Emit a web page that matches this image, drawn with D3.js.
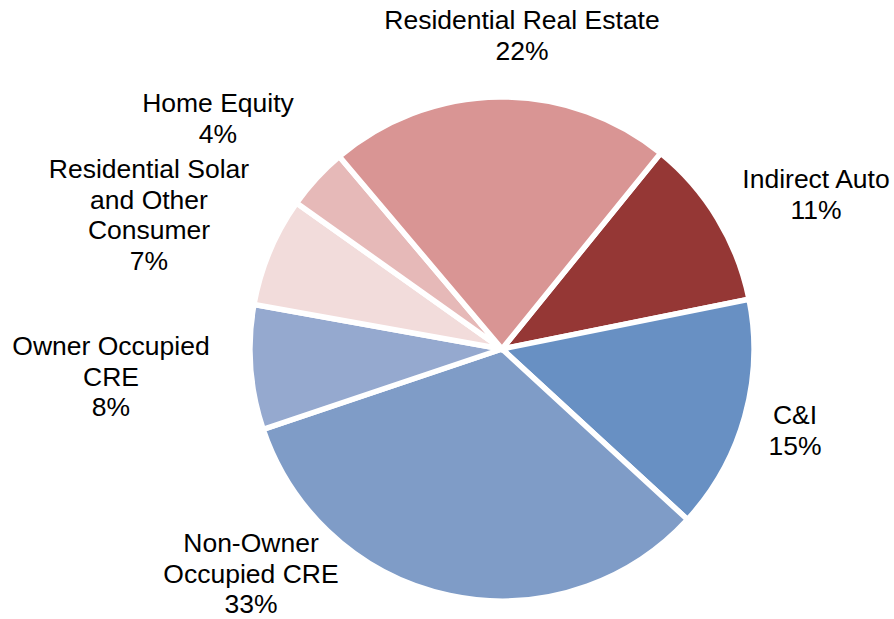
<!DOCTYPE html>
<html>
<head>
  <meta charset="utf-8">
  <style>
    body { margin: 0; background: #fff; }
    .label { font-family: Arial, "Liberation Sans", sans-serif; font-size: 26.5px; fill: #000; }
  </style>
  <script src="https://d3js.org/d3.v7.min.js"></script>
</head>
<body>
  <div id="chart"></div>
  <script>
  // slices, clockwise starting at Indirect Auto
  var categories = ["Indirect Auto", "C&I", "Non-Owner Occupied CRE", "Owner Occupied CRE",
                    "Residential Solar and Other Consumer", "Home Equity", "Residential Real Estate"];
  var shares = [11, 15, 33, 8, 7, 4, 22];
  var pctLabels = ["11%", "15%", "33%", "8%", "7%", "4%", "22%"];
  // how each label wraps in the original
  var labelLines = [
    ["Indirect Auto"],
    ["C&I"],
    ["Non-Owner", "Occupied CRE"],
    ["Owner Occupied", "CRE"],
    ["Residential Solar", "and Other", "Consumer"],
    ["Home Equity"],
    ["Residential Real Estate"]
  ];
  var colors = ["#953735", "#6890c3", "#7f9cc7", "#95a9cf", "#f2dcdb", "#e6b9b8", "#d99594"];

  var width = 894, height = 619;
  var cx = 502, cy = 349, radius = 252;

  // label anchor points (center x, first baseline)
  var labelPos = [
    [816, 188], [795, 424], [251, 552], [111, 355], [149, 178], [218, 112], [522, 29]
  ];

  var svg = d3.select("#chart").append("svg")
      .attr("width", width)
      .attr("height", height);

  var pie = d3.pie()
      .sort(null)
      .startAngle(39 * Math.PI / 180)
      .endAngle(39 * Math.PI / 180 + 2 * Math.PI)
      .value(function(d) { return d; });

  var arc = d3.arc()
      .innerRadius(0)
      .outerRadius(radius);

  var g = svg.append("g")
      .attr("transform", "translate(" + cx + "," + cy + ")");

  g.selectAll("path")
      .data(pie(shares))
    .enter().append("path")
      .attr("d", arc)
      .attr("fill", function(d, i) { return colors[i]; })
      .attr("stroke", "#fff")
      .attr("stroke-width", 5.5)
      .attr("stroke-linejoin", "miter");

  var labels = svg.selectAll(".label")
      .data(categories)
    .enter().append("text")
      .attr("class", "label")
      .attr("text-anchor", "middle")
      .attr("x", function(d, i) { return labelPos[i][0]; })
      .attr("y", function(d, i) { return labelPos[i][1]; });

  labels.each(function(d, i) {
    var t = d3.select(this);
    var lines = labelLines[i].concat([pctLabels[i]]);
    lines.forEach(function(line, j) {
      t.append("tspan")
        .attr("x", labelPos[i][0])
        .attr("dy", j === 0 ? 0 : 30.5)
        .text(line);
    });
  });
  </script>
</body>
</html>
